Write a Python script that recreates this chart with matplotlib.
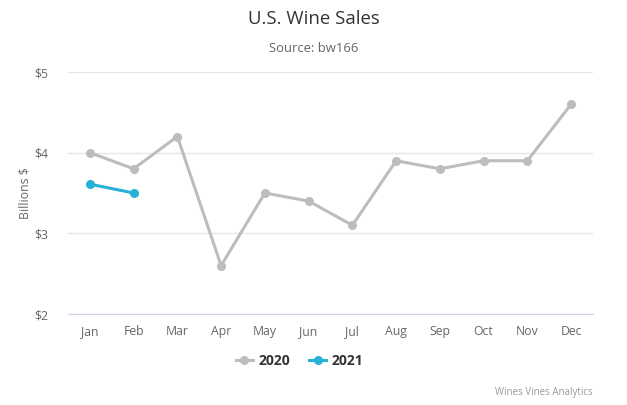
import matplotlib
matplotlib.use("Agg")
import matplotlib.pyplot as plt
from matplotlib.lines import Line2D

plt.rcParams['font.family'] = ['Open Sans', 'DejaVu Sans']

# data
months = ['Jan', 'Feb', 'Mar', 'Apr', 'May', 'Jun', 'Jul', 'Aug', 'Sep', 'Oct', 'Nov', 'Dec']
sales_2020 = [4.0, 3.8, 4.2, 2.6, 3.5, 3.4, 3.1, 3.9, 3.8, 3.9, 3.9, 4.6]
sales_2021 = [3.61, 3.5]
yticks = [2, 3, 4, 5]

grey = '#bdbdbd'
blue = '#27b1d6'

fig = plt.figure(figsize=(6.27, 4.05), dpi=100)
ax = fig.add_axes([68/627, 1 - 314/405, (593-68)/627, (314-72)/405])

x = list(range(len(months)))
ax.plot(x, sales_2020, color=grey, lw=2.2, marker='o', ms=5.5, label='2020', zorder=3)
ax.plot(x[:len(sales_2021)], sales_2021, color=blue, lw=2.2, marker='o', ms=5.5, label='2021', zorder=4)

ax.set_xlim(-0.5, len(months) - 0.5)
ax.set_ylim(2, 5)
ax.set_xticks(x)
ax.set_xticklabels(months)
ax.set_yticks(yticks)
ax.set_yticklabels(['$%d' % v for v in yticks])
ax.tick_params(axis='both', length=0, labelsize=8.8, colors='#666666')
ax.tick_params(axis='x', pad=8)
ax.tick_params(axis='y', pad=14)
ax.grid(axis='y', color='#e6e6e6', lw=1)
ax.set_axisbelow(True)
for s in ['top', 'right', 'left']:
    ax.spines[s].set_visible(False)
ax.spines['bottom'].set_color('#ccd6eb')
ax.set_ylabel('Billions $', fontsize=8.8, color='#666666', labelpad=2)

fig.text(0.5, 1 - 19/405, 'U.S. Wine Sales', ha='center', va='center', fontsize=13.4, color='#333333')
fig.text(0.5, 1 - 48/405, 'Source: bw166', ha='center', va='center', fontsize=9.4, color='#666666')
fig.text(593/627, 1 - 393/405, 'Wines Vines Analytics', ha='right', va='center', fontsize=7, color='#999999')

handles = [Line2D([], [], color=grey, lw=2.2, marker='o', ms=5.5),
           Line2D([], [], color=blue, lw=2.2, marker='o', ms=5.5)]
leg = fig.legend(handles, ['2020', '2021'], loc='center', bbox_to_anchor=(0.478, 1 - 361/405),
                 ncol=2, frameon=False, handlelength=1.2, columnspacing=1.4, handletextpad=0.4,
                 prop={'weight': 'bold', 'size': 10})
for t in leg.get_texts():
    t.set_color('#333333')

fig.savefig('out.png', dpi=100)
